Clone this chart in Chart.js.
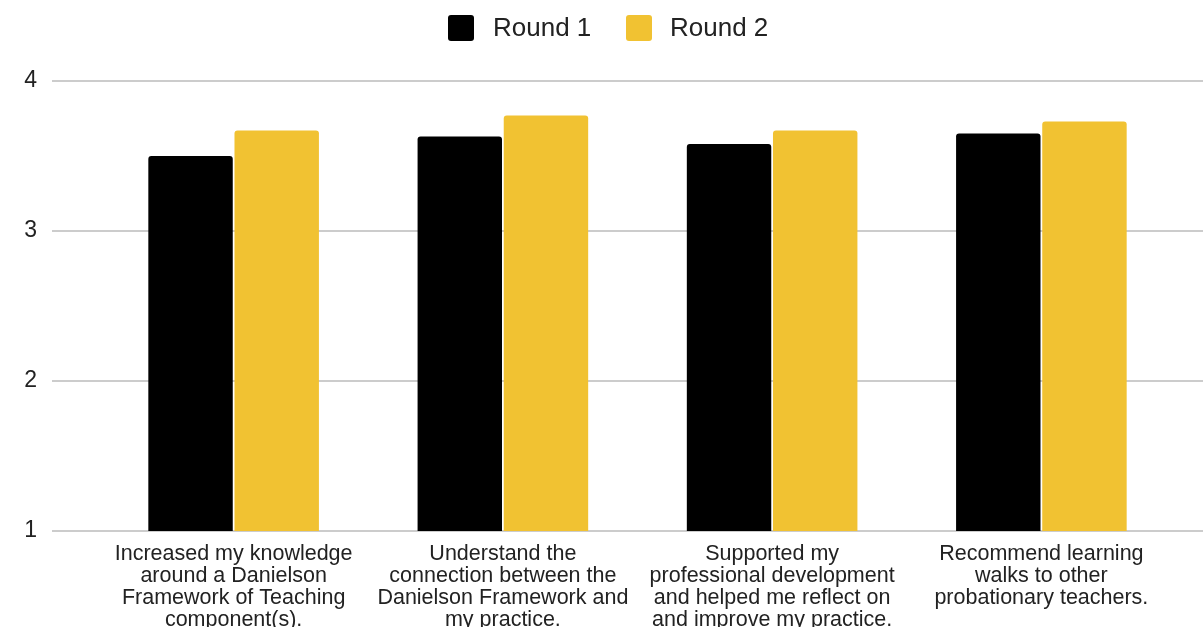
<!DOCTYPE html>
<html>
<head>
<meta charset="utf-8">
<script src="https://cdn.jsdelivr.net/npm/chart.js@4.4.1/dist/chart.umd.min.js"></script>
<style>
  html, body { margin: 0; padding: 0; background: #ffffff; overflow: hidden; }
  #wrap { position: absolute; left: 0; top: 0; width: 1203px; height: 645px; }
</style>
</head>
<body>
<div id="wrap"><canvas id="chart"></canvas></div>
<script>
// Survey statements (wrapped into lines) and mean ratings per round
const categories = [
  ["Increased my knowledge", "around a Danielson", "Framework of Teaching", "component(s)."],
  ["Understand the", "connection between the", "Danielson Framework and", "my practice."],
  ["Supported my", "professional development", "and helped me reflect on", "and improve my practice."],
  ["Recommend learning", "walks to other", "probationary teachers."]
];
const seriesNames = ["Round 1", "Round 2"];
const round1 = [3.50, 3.63, 3.58, 3.65];
const round2 = [3.67, 3.77, 3.67, 3.73];
const yTicks = [1, 2, 3, 4];

const FONT = "'Liberation Sans', Arial, sans-serif";
const TEXT = '#222222';
const COLORS = ['#000000', '#f1c232'];

// Horizontal gridlines running the full width of the chart
const fullGrid = {
  id: 'fullGrid',
  beforeDatasetsDraw(chart) {
    const y = chart.scales.y;
    const ctx = chart.ctx;
    ctx.save();
    ctx.strokeStyle = '#cccccc';
    ctx.lineWidth = 2;
    yTicks.forEach(v => {
      const py = Math.round(y.getPixelForValue(v));
      ctx.beginPath();
      ctx.moveTo(52, py);
      ctx.lineTo(chart.width, py);
      ctx.stroke();
    });
    ctx.restore();
  }
};

// Legend row at the top: square swatch followed by series name
const topLegend = {
  id: 'topLegend',
  afterDraw(chart) {
    const ctx = chart.ctx;
    const items = [{ box: 448, text: 493 }, { box: 626, text: 670 }];
    ctx.save();
    ctx.font = '26px ' + FONT;
    ctx.textBaseline = 'middle';
    ctx.textAlign = 'left';
    chart.data.datasets.forEach((ds, i) => {
      const it = items[i];
      ctx.fillStyle = ds.backgroundColor;
      ctx.beginPath();
      ctx.roundRect(it.box, 15, 26, 26, 3);
      ctx.fill();
      ctx.fillStyle = TEXT;
      ctx.fillText(ds.label, it.text, 29);
    });
    ctx.restore();
  }
};

new Chart(document.getElementById('chart'), {
  type: 'bar',
  data: {
    labels: categories,
    datasets: [
      { label: seriesNames[0], data: round1, backgroundColor: COLORS[0] },
      { label: seriesNames[1], data: round2, backgroundColor: COLORS[1] }
    ]
  },
  options: {
    responsive: true,
    maintainAspectRatio: false,
    animation: false,
    layout: { padding: { top: 81, right: 27, left: 0, bottom: 0 } },
    datasets: {
      bar: {
        categoryPercentage: 0.64,
        barPercentage: 0.98,
        borderRadius: 3,
        borderSkipped: 'start'
      }
    },
    plugins: {
      legend: { display: false },
      tooltip: { enabled: false }
    },
    scales: {
      x: {
        grid: { display: false, drawTicks: false },
        border: { display: false },
        ticks: {
          color: TEXT,
          font: { family: FONT, size: 21.5, lineHeight: 1.03 },
          padding: 12,
          maxRotation: 0,
          autoSkip: false
        },
        afterFit(scale) { scale.height = 114; }
      },
      y: {
        min: 1,
        max: 4,
        grid: { display: false, drawTicks: false },
        border: { display: false },
        ticks: {
          stepSize: 1,
          color: TEXT,
          font: { family: FONT, size: 23 },
          padding: 62
        },
        afterFit(scale) { scale.width = 99; }
      }
    }
  },
  plugins: [fullGrid, topLegend]
});
</script>
</body>
</html>
